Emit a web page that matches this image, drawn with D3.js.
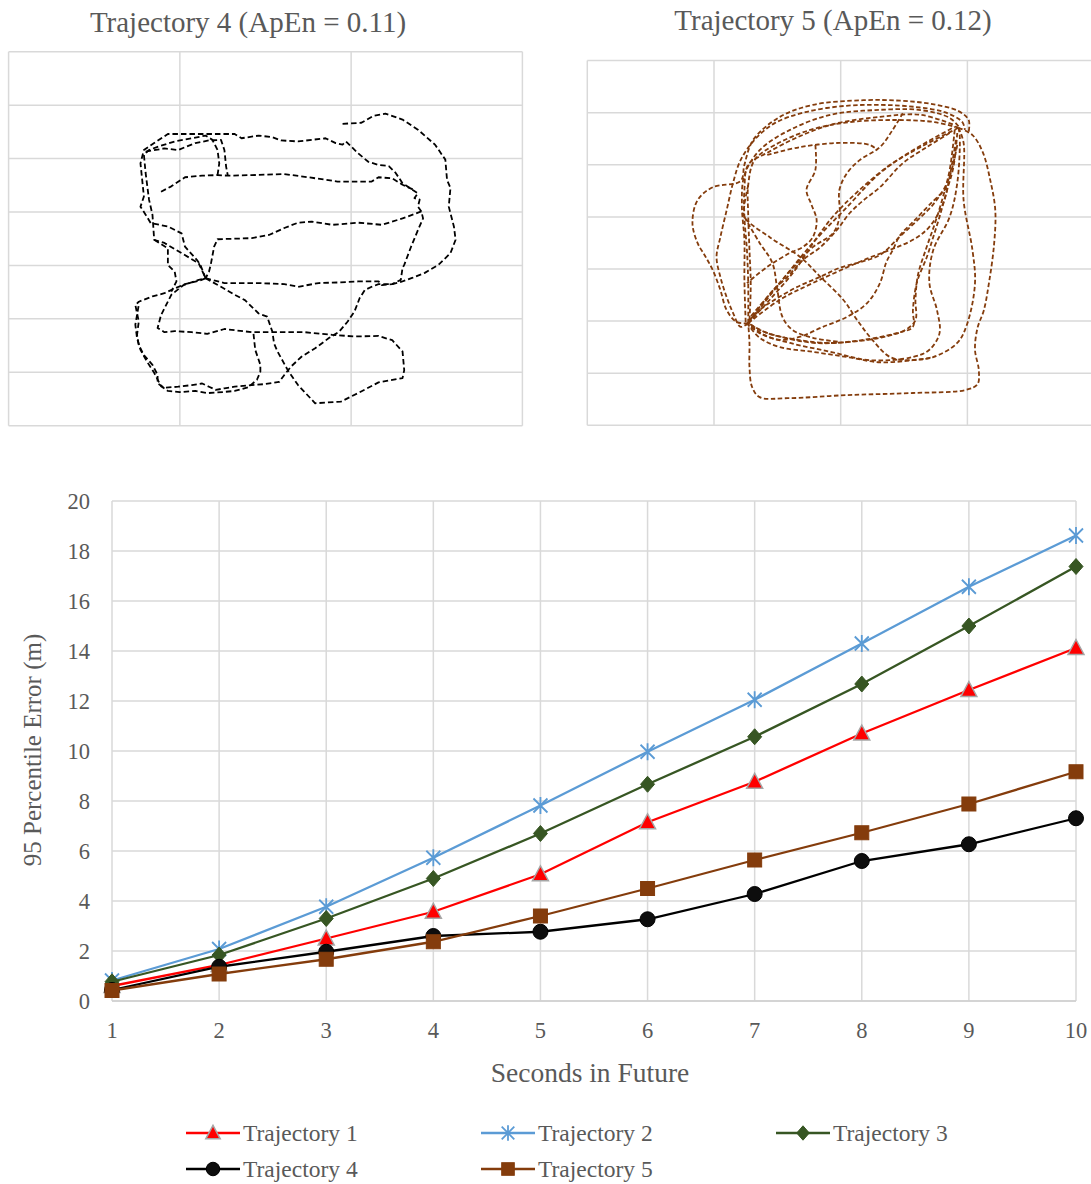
<!DOCTYPE html>
<html>
<head>
<meta charset="utf-8">
<script src="https://cdn.jsdelivr.net/npm/d3@7"></script>
<style>
  body { margin: 0; background: #ffffff; }
  svg text { font-family: "Liberation Serif", "Times New Roman", serif; fill: #595959; }
</style>
</head>
<body>
<svg id="chart" width="1091" height="1184"></svg>
<script>
// ---------- line chart data ----------
const seconds = [1, 2, 3, 4, 5, 6, 7, 8, 9, 10];
const errorTicks = [0, 2, 4, 6, 8, 10, 12, 14, 16, 18, 20];
const seriesNames = ["Trajectory 1", "Trajectory 2", "Trajectory 3", "Trajectory 4", "Trajectory 5"];
const traj1Error = [0.60, 1.44, 2.50, 3.57, 5.07, 7.15, 8.77, 10.70, 12.44, 14.12];
const traj2Error = [0.82, 2.08, 3.77, 5.73, 7.82, 9.97, 12.05, 14.30, 16.57, 18.62];
const traj3Error = [0.77, 1.84, 3.30, 4.90, 6.70, 8.67, 10.57, 12.68, 15.00, 17.38];
const traj4Error = [0.44, 1.37, 1.97, 2.60, 2.77, 3.27, 4.28, 5.60, 6.27, 7.31];
const traj5Error = [0.42, 1.08, 1.67, 2.37, 3.40, 4.50, 5.64, 6.73, 7.88, 9.17];

// ---------- trajectory panels (local metres, recorded legs) ----------
const panelTitles = ["Trajectory 4 (ApEn = 0.11)", "Trajectory 5 (ApEn = 0.12)"];
const traj4GridX = [0, 10, 20, 30];
const traj5GridX = [0, 10, 20, 30, 40];
const panelGridY = [0, 10, 20, 30, 40, 50, 60, 70];

const trajectory4Legs = [
  [[19.5,56.5],[20.6,56.7],[21.3,58.0],[22.0,58.4],[23.0,57.3],[23.9,55.4],[24.9,52.6],[25.5,49.8],[25.6,46.0],[25.8,44.5],[25.7,41.0],[26.0,37.3],[26.1,34.8],[25.8,32.3],[25.1,30.1],[24.3,28.6],[23.6,27.7],[22.9,26.9],[22.4,26.5],[21.6,26.5],[21.2,26.0],[20.8,25.4],[20.5,23.9],[20.2,21.4],[19.8,19.5],[19.3,17.6],[18.7,16.4],[17.9,14.5],[17.1,12.9],[16.5,11.1],[16.1,9.5],[15.8,8.2],[15.0,7.8],[14.2,7.6],[13.2,7.3],[12.6,7.0],[12.1,6.7],[11.7,7.3],[11.3,7.9],[10.7,7.6],[9.9,7.3],[9.1,7.1],[8.7,7.9],[8.7,9.5],[8.4,11.4],[7.9,13.2],[7.6,15.1],[7.5,17.0],[7.6,19.5],[7.4,22.6],[7.6,23.2],[8.4,24.2],[9.1,24.8],[9.7,25.7],[10.3,26.5],[11.1,27.1],[11.5,27.6]],
  [[11.5,27.6],[12.4,26.0],[13.2,24.5],[13.8,23.5],[14.6,21.0],[15.1,20.4],[15.4,17.6],[15.5,15.4],[15.7,13.9],[16.3,10.4],[16.9,7.6],[17.9,4.2],[19.4,4.5],[20.4,6.1],[21.6,8.1],[23.0,8.9],[23.1,10.4],[23.0,13.9],[22.4,16.0],[21.6,16.8],[20.2,16.7],[18.9,17.0],[17.3,17.5],[15.4,17.5],[14.2,17.5],[12.6,18.1],[11.6,17.2],[10.7,17.5],[9.7,17.7],[9.1,17.5],[8.7,18.3],[8.9,20.7],[9.5,24.5],[10.2,26.3],[11.1,27.3],[11.5,27.6]],
  [[14.3,17.2],[14.4,14.2],[14.7,11.4],[14.7,10.1],[14.5,8.6],[14.0,7.2],[13.2,6.5],[12.5,6.3],[11.6,6.1],[10.9,6.5],[10.0,6.3],[9.3,6.5],[8.9,7.4],[8.5,9.9],[8.1,11.9],[7.7,14.2],[7.5,16.4],[7.4,18.9],[7.6,22.6]],
  [[11.5,27.6],[12.6,26.7],[14.6,26.7],[16.1,26.5],[16.9,26.0],[18.1,26.7],[19.2,26.8],[20.4,27.0],[21.6,27.0],[21.8,26.3],[22.4,26.5],[22.9,27.3],[23.0,29.5],[23.1,30.1],[23.5,33.5],[23.9,36.6],[24.2,38.8],[24.1,40.1],[23.9,41.0],[24.0,42.3],[23.7,42.6],[23.9,43.5],[23.6,44.1],[23.0,45.4],[22.6,47.3],[22.2,48.6],[21.6,48.8],[21.0,49.4],[20.4,51.0],[19.7,53.2],[19.5,52.6],[19.1,52.9],[18.5,53.8],[16.9,53.2],[15.9,53.4],[15.4,54.0],[14.6,54.3],[13.6,53.8],[13.2,54.6],[10.7,54.6],[9.3,54.6],[8.5,52.9],[7.9,51.6],[7.7,49.1],[7.8,46.0],[7.9,42.9],[7.7,41.0],[8.0,39.5],[8.3,37.9],[9.3,37.3],[10.1,36.0],[10.3,33.5],[11.0,31.0],[11.2,30.1],[11.5,27.6]],
  [[24.1,40.1],[23.0,38.8],[21.8,37.6],[20.4,38.0],[18.9,37.6],[17.7,38.2],[16.9,38.0],[16.1,37.0],[15.2,35.7],[14.2,35.1],[12.2,34.9],[12.0,33.5],[11.8,30.1],[11.7,28.8],[11.5,27.6]],
  [[8.9,43.8],[9.5,44.8],[10.3,46.5],[11.3,46.8],[12.2,46.9],[12.8,46.8],[14.2,46.9],[16.1,47.1],[17.5,46.5],[19.2,45.7],[21.2,45.7],[21.6,46.5],[22.4,46.3],[23.0,45.1],[23.7,44.1]],
  [[12.2,46.9],[12.3,49.1],[12.2,51.6],[11.9,53.5],[11.5,54.3],[10.7,53.8],[9.7,53.2],[8.7,52.2],[8.2,51.6],[7.9,50.7],[8.0,47.3],[8.2,42.3],[8.4,39.5],[8.5,34.8],[9.1,34.2],[10.1,32.3],[11.1,30.4],[11.5,27.6]],
  [[8.0,51.3],[9.1,51.9],[9.9,51.6],[10.9,52.9],[11.7,53.4],[12.4,53.5],[12.6,51.6],[12.7,48.5],[12.8,46.8]],
  [[8.5,34.8],[9.3,33.2],[9.3,30.1],[9.7,28.8],[9.8,27.0],[9.5,25.1]]
];

const trajectory5Legs = [
  [[29.3,57.1],[30.4,55.7],[31.2,52.5],[31.8,47.1],[32.2,41.3],[32.1,34.6],[31.7,27.3],[31.3,22.1],[30.8,18.7],[30.6,14.5],[30.9,10.6],[30.8,7.9],[29.9,6.8],[25.7,6.2],[20.5,5.8],[15.8,5.2],[13.6,5.4],[13.0,7.4],[12.8,11.2],[12.8,15.8],[12.7,19.6]],
  [[12.7,19.6],[11.8,19.8],[11.0,22.1],[10.5,26.0],[9.9,29.8],[9.3,32.5],[8.7,35.0],[8.3,38.8],[8.7,43.2],[9.9,45.7],[12.1,46.9],[12.4,50.0],[13.1,54.8],[15.2,59.2],[17.8,61.5],[21.8,62.4],[24.7,62.3],[27.1,61.7],[29.3,60.3],[30.1,58.6],[30.1,56.3]],
  [[12.7,19.6],[12.1,18.9],[11.5,21.6],[11.0,24.6],[10.5,28.5],[10.2,32.3],[10.5,36.1],[11.0,41.3],[11.5,46.5],[12.1,50.9],[13.2,54.8],[14.8,58.0],[17.2,60.1],[20.3,61.3],[23.1,61.5],[25.9,61.1],[28.2,60.1],[29.6,58.2],[29.8,56.7]],
  [[29.3,57.1],[29.7,54.2],[29.7,43.2],[30.4,33.6],[30.6,27.3],[30.0,19.6],[29.2,15.8],[27.3,13.1],[25.7,12.5],[23.1,12.1],[20.5,13.1],[17.8,14.1],[15.2,15.0],[13.6,16.8],[12.7,19.3]],
  [[29.3,57.1],[29.4,55.3],[29.2,46.5],[28.6,40.0],[27.3,33.6],[27.0,27.3],[27.6,22.1],[27.8,17.7],[27.0,14.5],[25.7,13.1],[22.3,12.5],[19.2,14.1],[16.0,15.8],[14.0,17.3],[12.7,19.6]],
  [[29.2,56.1],[28.9,49.6],[28.4,45.2],[27.8,40.0],[27.3,36.1],[26.8,32.3],[26.0,27.3],[25.7,22.1],[25.7,18.9],[24.4,17.7],[21.8,16.4],[19.2,15.8],[16.6,16.4],[14.2,17.7],[12.7,19.6]],
  [[29.0,56.7],[28.6,49.0],[28.0,43.2],[27.4,38.5],[26.7,33.6],[26.1,28.9],[25.9,24.1],[25.9,20.2],[25.1,18.3],[23.1,16.8],[20.7,16.0],[18.0,15.8],[15.6,16.8],[13.6,18.3],[12.7,19.6]],
  [[12.7,19.6],[12.7,27.3],[12.6,33.6],[12.4,40.0],[12.4,45.2],[12.7,50.0],[14.2,52.3],[16.6,55.3],[19.4,57.8],[23.1,59.2],[26.3,59.6],[29.0,57.6]],
  [[12.8,20.2],[12.9,26.9],[12.8,33.6],[12.7,40.4],[12.7,46.1],[13.2,50.9],[14.8,53.8],[17.6,56.7],[20.7,58.2],[24.3,58.6],[27.4,58.2],[29.3,57.1]],
  [[12.5,19.8],[12.4,27.9],[12.4,35.6],[12.2,42.3],[12.4,48.0],[13.6,52.8],[16.0,56.7],[19.2,59.6],[22.7,60.5],[26.3,60.5],[28.6,59.0],[29.4,57.1]],
  [[12.7,19.6],[15.2,27.3],[17.8,35.0],[20.5,41.9],[23.1,48.4],[25.7,52.8],[29.0,57.3]],
  [[12.7,19.6],[14.4,24.1],[16.4,29.8],[18.0,35.6],[19.5,40.4],[21.5,45.2],[23.9,50.0],[26.3,53.4],[29.3,57.1]],
  [[12.7,19.6],[15.2,24.1],[17.8,27.3],[21.8,31.7],[25.7,35.6],[27.0,38.1],[28.1,42.7],[28.6,47.7],[29.1,54.8]],
  [[12.7,46.1],[12.4,42.3],[12.4,40.0],[14.4,36.1],[16.8,32.3],[18.4,28.5],[20.2,24.1],[21.3,20.2],[22.5,16.4],[23.9,13.1],[25.5,12.5],[27.3,13.1]],
  [[12.4,40.0],[13.6,35.0],[14.6,31.2],[15.0,26.0],[15.4,20.8],[16.2,18.3],[17.8,16.8],[19.9,16.0]],
  [[14.2,51.9],[16.8,53.4],[19.9,54.2],[22.3,53.8],[22.9,52.8]],
  [[18.0,53.8],[18.0,49.0],[17.3,45.2],[17.7,42.3],[18.1,39.4],[17.8,36.1],[17.0,34.2],[16.0,33.1],[14.2,30.4],[12.6,27.3]],
  [[28.6,56.1],[26.8,53.4],[24.9,50.3],[23.1,45.7],[21.8,43.2],[20.7,40.7],[19.7,37.5],[18.4,34.2],[17.0,31.7],[15.8,28.5],[14.7,26.0],[13.6,22.7],[12.8,20.0]],
  [[24.9,59.9],[24.1,56.7],[23.1,53.4],[21.5,50.9],[20.5,48.4],[19.9,45.2],[19.9,40.0],[19.4,36.9],[17.8,34.2],[16.6,31.2],[14.7,26.0],[12.8,20.6]],
  [[29.2,53.8],[28.5,47.1],[27.4,42.7],[25.9,39.0],[24.7,36.3],[23.1,32.7],[21.5,31.3],[19.9,30.2],[18.4,28.5],[16.6,26.6],[15.0,24.4],[13.9,22.7],[12.8,20.2]],
  [[28.4,45.6],[27.0,42.3],[25.7,39.0],[24.7,36.5],[24.1,33.6],[23.6,31.3],[23.1,27.3],[22.1,23.5],[20.5,20.8],[18.6,18.9],[16.8,17.0],[15.2,16.4],[13.6,17.7],[12.7,19.3]]
];

// ---------- drawing ----------
const svg = d3.select("#chart");
const GRID = "#d9d9d9";

// trajectory panel helper
function drawPanel(cfg) {
  const g = svg.append("g");
  const x = d3.scaleLinear().domain(cfg.xDomain).range(cfg.xRange);
  const y = d3.scaleLinear().domain([0, 70]).range(cfg.yRange);
  g.selectAll("line.gx").data(cfg.gridX).join("line")
    .attr("x1", d => x(d)).attr("x2", d => x(d))
    .attr("y1", y(0)).attr("y2", y(70))
    .attr("stroke", GRID).attr("stroke-width", 1.5);
  g.selectAll("line.gy").data(panelGridY).join("line")
    .attr("x1", x(cfg.xDomain[0])).attr("x2", x(cfg.xDomain[1]))
    .attr("y1", d => y(d)).attr("y2", d => y(d))
    .attr("stroke", GRID).attr("stroke-width", 1.5);
  const line = d3.line().x(d => x(d[0])).y(d => y(d[1])).curve(cfg.curve);
  g.selectAll("path.leg").data(cfg.legs).join("path")
    .attr("d", line)
    .attr("fill", "none")
    .attr("stroke", cfg.color)
    .attr("stroke-width", cfg.width)
    .attr("stroke-dasharray", cfg.dash)
    .attr("stroke-linejoin", "round");
  svg.append("text")
    .attr("x", cfg.titleX).attr("y", cfg.titleY)
    .attr("text-anchor", "middle")
    .attr("font-size", 29)
    .text(cfg.title);
}

drawPanel({
  xDomain: [0, 30], xRange: [8.6, 522.4], yRange: [425.7, 51.7],
  gridX: traj4GridX, legs: trajectory4Legs, color: "#000000",
  width: 1.8, dash: "5.5,3", curve: d3.curveLinear,
  title: panelTitles[0], titleX: 248, titleY: 32
});
drawPanel({
  xDomain: [0, 40], xRange: [587.3, 1094.1], yRange: [425.3, 60.6],
  gridX: traj5GridX, legs: trajectory5Legs, color: "#843c0c",
  width: 1.8, dash: "4.5,2.5", curve: d3.curveCatmullRom.alpha(0.5),
  title: panelTitles[1], titleX: 833, titleY: 30
});

// ---------- error line chart ----------
const x = d3.scaleLinear().domain([1, 10]).range([112, 1076]);
const y = d3.scaleLinear().domain([0, 20]).range([1001, 501]);

const chart = svg.append("g");
chart.selectAll("line.hy").data(errorTicks).join("line")
  .attr("x1", x(1)).attr("x2", x(10))
  .attr("y1", d => y(d)).attr("y2", d => y(d))
  .attr("stroke", GRID).attr("stroke-width", 1.5);
chart.selectAll("line.vx").data(seconds).join("line")
  .attr("x1", d => x(d)).attr("x2", d => x(d))
  .attr("y1", y(0)).attr("y2", y(20))
  .attr("stroke", GRID).attr("stroke-width", 1.5);
chart.append("line")
  .attr("x1", x(1)).attr("x2", x(10)).attr("y1", y(0)).attr("y2", y(0))
  .attr("stroke", "#cfcfcf").attr("stroke-width", 1.6);

chart.selectAll("text.yt").data(errorTicks).join("text")
  .attr("x", 90).attr("y", d => y(d)).attr("dy", "0.35em")
  .attr("text-anchor", "end").attr("font-size", 22.5)
  .text(d => d);
chart.selectAll("text.xt").data(seconds).join("text")
  .attr("x", d => x(d)).attr("y", 1030).attr("dy", "0.35em")
  .attr("text-anchor", "middle").attr("font-size", 22.5)
  .text(d => d);

svg.append("text")
  .attr("x", 590).attr("y", 1072).attr("dy", "0.35em")
  .attr("text-anchor", "middle").attr("font-size", 27.5)
  .text("Seconds in Future");
svg.append("text")
  .attr("transform", "translate(32,750) rotate(-90)")
  .attr("dy", "0.35em")
  .attr("text-anchor", "middle").attr("font-size", 25)
  .text("95 Percentile Error (m)");

// marker painters
const markers = {
  triangle: (g, s) => g.append("path").attr("d", `M0,${-8.5*s}L${8*s},${6.5*s}L${-8*s},${6.5*s}Z`)
      .attr("fill", "#ff0000").attr("stroke", "#a6a6a6").attr("stroke-width", 1.5),
  star: (g, s) => g.append("path")
      .attr("d", `M${-7*s},${-7*s}L${7*s},${7*s}M${-7*s},${7*s}L${7*s},${-7*s}M0,${-8.5*s}L0,${8.5*s}`)
      .attr("fill", "none").attr("stroke", "#5b9bd5").attr("stroke-width", 1.8),
  diamond: (g, s) => g.append("path").attr("d", `M0,${-8*s}L${7*s},0L0,${8*s}L${-7*s},0Z`)
      .attr("fill", "#375623").attr("stroke", "#375623").attr("stroke-width", 1),
  circle: (g, s) => g.append("circle").attr("r", 7.5 * s)
      .attr("fill", "#0d0d0d").attr("stroke", "#000").attr("stroke-width", 1),
  square: (g, s) => g.append("rect").attr("x", -7*s).attr("y", -7*s).attr("width", 14*s).attr("height", 14*s)
      .attr("fill", "#843c0c").attr("stroke", "#843c0c").attr("stroke-width", 1)
};

const series = [
  { name: seriesNames[0], values: traj1Error, color: "#ff0000", marker: "triangle" },
  { name: seriesNames[1], values: traj2Error, color: "#5b9bd5", marker: "star" },
  { name: seriesNames[2], values: traj3Error, color: "#375623", marker: "diamond" },
  { name: seriesNames[3], values: traj4Error, color: "#000000", marker: "circle" },
  { name: seriesNames[4], values: traj5Error, color: "#843c0c", marker: "square" }
];

const valueLine = d3.line().x((d, i) => x(seconds[i])).y(d => y(d));
series.forEach(s => {
  const g = chart.append("g");
  g.append("path").attr("d", valueLine(s.values))
    .attr("fill", "none").attr("stroke", s.color).attr("stroke-width", 2.3);
  s.values.forEach((v, i) => {
    const m = g.append("g").attr("transform", `translate(${x(seconds[i])},${y(v)})`);
    markers[s.marker](m, 1);
  });
});

// legend
const legendPos = [[186, 1133], [481, 1133], [776, 1133], [186, 1169], [481, 1169]];
series.forEach((s, i) => {
  const [lx, ly] = legendPos[i];
  const g = svg.append("g").attr("transform", `translate(${lx},${ly})`);
  g.append("line").attr("x1", 0).attr("x2", 54).attr("y1", 0).attr("y2", 0)
    .attr("stroke", s.color).attr("stroke-width", 2.3);
  const m = g.append("g").attr("transform", "translate(27,0)");
  markers[s.marker](m, 0.9);
  g.append("text").attr("x", 57).attr("y", 0).attr("dy", "0.35em")
    .attr("font-size", 23.5).text(s.name);
});
</script>
</body>
</html>
